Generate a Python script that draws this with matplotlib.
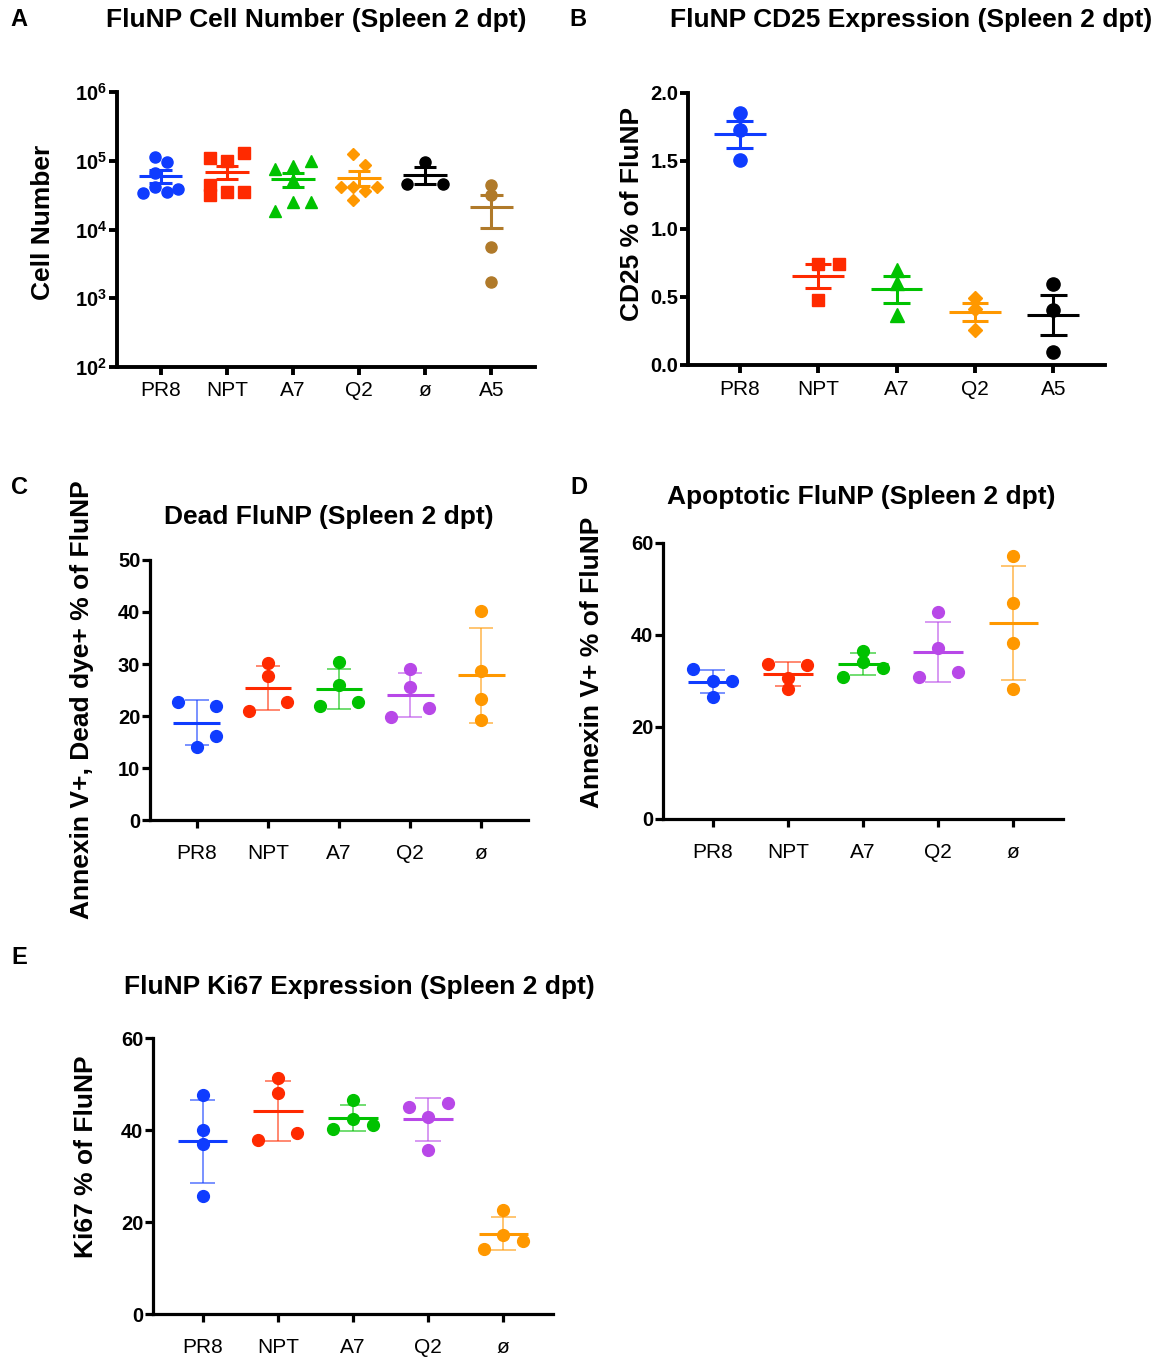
import matplotlib
matplotlib.use("Agg")
import matplotlib.pyplot as plt
import numpy as np

plt.rcParams["font.family"] = ["Liberation Sans", "DejaVu Sans"]
plt.rcParams["mathtext.fontset"] = "custom"
plt.rcParams["mathtext.rm"] = "Liberation Sans"
plt.rcParams["mathtext.bf"] = "Liberation Sans:bold"

W, H, DPI = 1168, 1359, 100

# ---------------- data ----------------
# A: FluNP cell number (log scale), mean +/- SEM
a_groups = ["PR8", "NPT", "A7", "Q2", "ø", "A5"]
a_pr8 = [1.12e5, 9.5e4, 6.56e4, 4.19e4, 3.36e4, 3.47e4, 3.89e4]
a_npt = [1.09e5, 1.00e5, 1.28e5, 4.44e4, 3.18e4, 3.55e4, 3.55e4]
a_a7 = [7.5e4, 8.5e4, 9.9e4, 5.25e4, 2.54e4, 2.54e4, 1.87e4]
a_q2 = [1.25e5, 8.7e4, 4.11e4, 4.11e4, 3.67e4, 4.11e4, 2.69e4]
a_none = [9.7e4, 4.6e4, 4.6e4]
a_a5 = [4.5e4, 3.18e4, 5.6e3, 1.7e3]
a_yticks = [1e2, 1e3, 1e4, 1e5, 1e6]

# B: CD25 % of FluNP, mean +/- SEM
b_groups = ["PR8", "NPT", "A7", "Q2", "A5"]
b_pr8 = [1.854, 1.727, 1.505]
b_npt = [0.746, 0.746, 0.476]
b_a7 = [0.70, 0.60, 0.37]
b_q2 = [0.495, 0.412, 0.261]
b_a5 = [0.598, 0.402, 0.098]
b_yticks = [0.0, 0.5, 1.0, 1.5, 2.0]

# C: Annexin V+, Dead dye+ % of FluNP, mean +/- SD
c_groups = ["PR8", "NPT", "A7", "Q2", "ø"]
c_pr8 = [22.7, 22.0, 16.1, 14.1]
c_npt = [30.2, 27.6, 22.6, 21.0]
c_a7 = [30.3, 25.9, 22.0, 22.6]
c_q2 = [29.1, 25.6, 19.8, 21.5]
c_none = [40.2, 28.6, 23.3, 19.2]
c_yticks = [0, 10, 20, 30, 40, 50]

# D: Annexin V+ % of FluNP, mean +/- SD
d_groups = ["PR8", "NPT", "A7", "Q2", "ø"]
d_pr8 = [32.7, 30.0, 30.1, 26.6]
d_npt = [33.8, 33.4, 30.6, 28.2]
d_a7 = [36.6, 34.2, 32.8, 30.9]
d_q2 = [45.1, 37.1, 32.0, 30.9]
d_none = [57.1, 46.9, 38.3, 28.2]
d_yticks = [0, 20, 40, 60]

# E: Ki67 % of FluNP, mean +/- SD
e_groups = ["PR8", "NPT", "A7", "Q2", "ø"]
e_pr8 = [47.6, 39.9, 37.0, 25.7]
e_npt = [51.2, 48.0, 39.4, 37.8]
e_a7 = [46.6, 42.5, 41.0, 40.2]
e_q2 = [45.9, 44.9, 42.8, 35.6]
e_none = [22.6, 17.1, 15.9, 14.2]
e_yticks = [0, 20, 40, 60]

# ---------------- styling ----------------
BLUE = "#0f3cff"
RED = "#ff2a00"
GREEN = "#00c200"
ORANGE = "#ff9800"
PURPLE = "#b848e8"
BROWN = "#b07a2a"
BLACK = "#000000"

# horizontal scatter spread of points within each group (category units)
a_spread = [[-0.09, 0.09, -0.09, -0.09, -0.26, 0.09, 0.26],
            [-0.26, 0, 0.26, -0.26, -0.26, 0, 0.26],
            [-0.27, 0, 0.27, 0, 0, 0.27, -0.27],
            [-0.09, 0.09, -0.27, -0.09, 0.09, 0.27, -0.09],
            [0, -0.27, 0.27],
            [0, 0, 0, 0]]
b_spread = [[0, 0, 0], [0, 0.27, 0], [0, 0, 0], [0, 0, 0], [0, 0, 0]]
c_spread = [[-0.27, 0.27, 0.27, 0], [0, 0, 0.27, -0.27], [0, 0, -0.27, 0.27],
            [0, 0, -0.27, 0.27], [0, 0, 0, 0]]
d_spread = [[-0.26, 0, 0.26, 0], [-0.26, 0.26, 0, 0], [0, 0, 0.26, -0.26],
            [0, 0, 0.26, -0.26], [0, 0, 0, 0]]
e_spread = [[0, 0, 0, 0], [0, 0, 0.26, -0.26], [0, 0, 0.26, -0.26],
            [0.26, -0.26, 0, 0], [0, 0, 0.26, -0.26]]

fig = plt.figure(figsize=(W / DPI, H / DPI), dpi=DPI)


def px_axes(left, top, right, bottom):
    return fig.add_axes([left / W, 1 - bottom / H, (right - left) / W, (bottom - top) / H])


def draw_panel(box, groups, series, spread, colors, markers, msizes, ylim, yticks,
               yticklabels, err="sem", log=False, spine_lw=2.8,
               mean_lw=2.2, err_lw=2.2, err_alpha=1.0, points_on_top=False,
               xpad=5):
    ax = px_axes(*box)
    n = len(groups)
    x = np.arange(n)
    for i, vals in enumerate(series):
        v = np.asarray(vals, dtype=float)
        m = v.mean()
        sd = v.std(ddof=1)
        e = sd / np.sqrt(len(v)) if err == "sem" else sd
        c = colors[i]
        zl = 2 if points_on_top else 4
        ax.hlines(m, i - 0.33, i + 0.33, color=c, lw=mean_lw, zorder=zl)
        ax.vlines(i, m - e, m + e, color=c, lw=err_lw, alpha=err_alpha, zorder=zl)
        ax.hlines([m - e, m + e], i - 0.17, i + 0.17, color=c, lw=err_lw,
                  alpha=err_alpha, zorder=zl)
        xs = i + np.asarray(spread[i])
        ax.plot(xs, v, linestyle="none", marker=markers[i], ms=msizes[i],
                color=c, mec=c, zorder=3)
    if log:
        ax.set_yscale("log")
        ax.yaxis.set_minor_locator(matplotlib.ticker.NullLocator())
    ax.set_ylim(*ylim)
    ax.set_xlim(-0.66, n - 1 + 0.66)
    ax.set_yticks(yticks)
    ax.set_yticklabels(yticklabels, fontsize=14.5, fontweight="bold")
    ax.set_xticks(x)
    ax.set_xticklabels(groups, fontsize=15)
    for s in ("top", "right"):
        ax.spines[s].set_visible(False)
    for s in ("left", "bottom"):
        ax.spines[s].set_linewidth(spine_lw)
    ax.tick_params(axis="both", length=6, width=spine_lw)
    ax.tick_params(axis="y", pad=1)
    ax.tick_params(axis="x", pad=xpad)
    ax.patch.set_alpha(0)
    return ax


# Panel A
draw_panel((117, 92, 535, 367), a_groups,
           [a_pr8, a_npt, a_a7, a_q2, a_none, a_a5], a_spread,
           [BLUE, RED, GREEN, ORANGE, BLACK, BROWN],
           ["o", "s", "^", "D", "o", "o"], [8, 8, 8, 6.5, 8, 8],
           (1e2, 1e6), a_yticks,
           [r"$\mathbf{10^{%d}}$" % int(np.log10(t)) for t in a_yticks],
           err="sem", log=True, xpad=4)

# Panel B
draw_panel((688, 93, 1105, 365), b_groups,
           [b_pr8, b_npt, b_a7, b_q2, b_a5], b_spread,
           [BLUE, RED, GREEN, ORANGE, BLACK],
           ["o", "s", "^", "D", "o"], [9.5, 9, 9.5, 7.5, 9.5],
           (0, 2.0), b_yticks, ["%.1f" % t for t in b_yticks],
           err="sem", xpad=5)

# Panel C
draw_panel((150, 560, 528, 820), c_groups,
           [c_pr8, c_npt, c_a7, c_q2, c_none], c_spread,
           [BLUE, RED, GREEN, PURPLE, ORANGE], ["o"] * 5, [8.5] * 5,
           (0, 50), c_yticks, [str(t) for t in c_yticks],
           err="sd", spine_lw=2.3, mean_lw=2.2, err_lw=1.2, err_alpha=0.65,
           points_on_top=True, xpad=11)

# Panel D
draw_panel((663, 543, 1063, 819), d_groups,
           [d_pr8, d_npt, d_a7, d_q2, d_none], d_spread,
           [BLUE, RED, GREEN, PURPLE, ORANGE], ["o"] * 5, [8.5] * 5,
           (0, 60), d_yticks, [str(t) for t in d_yticks],
           err="sd", spine_lw=2.3, mean_lw=2.2, err_lw=1.2, err_alpha=0.65,
           points_on_top=True, xpad=11)

# Panel E
draw_panel((153, 1038, 553, 1314), e_groups,
           [e_pr8, e_npt, e_a7, e_q2, e_none], e_spread,
           [BLUE, RED, GREEN, PURPLE, ORANGE], ["o"] * 5, [8.5] * 5,
           (0, 60), e_yticks, [str(t) for t in e_yticks],
           err="sd", spine_lw=2.3, mean_lw=2.2, err_lw=1.2, err_alpha=0.65,
           points_on_top=True, xpad=11)


def ftext(x, y, s, **kw):
    fig.text(x / W, 1 - y / H, s, **kw)


# titles
title_kw = dict(fontsize=19, fontweight="bold", ha="center", va="center")
ftext(316, 20, "FluNP Cell Number (Spleen 2 dpt)", **title_kw)
ftext(911, 20, "FluNP CD25 Expression (Spleen 2 dpt)", **title_kw)
ftext(329, 517, "Dead FluNP (Spleen 2 dpt)", **title_kw)
ftext(861, 497, "Apoptotic FluNP (Spleen 2 dpt)", **title_kw)
ftext(359, 987, "FluNP Ki67 Expression (Spleen 2 dpt)", **title_kw)

# panel letters
letter_kw = dict(fontsize=17, fontweight="bold", ha="center", va="center")
ftext(19, 20, "A", **letter_kw)
ftext(578, 20, "B", **letter_kw)
ftext(20, 487, "C", **letter_kw)
ftext(579, 487, "D", **letter_kw)
ftext(19, 957, "E", **letter_kw)

# y-axis labels
ylab_kw = dict(fontsize=19, fontweight="bold", ha="center", va="center", rotation=90)
ftext(43, 222, "Cell Number", **ylab_kw)
ftext(632, 214, "CD25 % of FluNP", **ylab_kw)
ftext(82, 700, "Annexin V+, Dead dye+ % of FluNP", **ylab_kw)
ftext(592, 662, "Annexin V+ % of FluNP", **ylab_kw)
ftext(86, 1157, "Ki67 % of FluNP", **ylab_kw)

fig.savefig("out.png", dpi=DPI, facecolor="white")
